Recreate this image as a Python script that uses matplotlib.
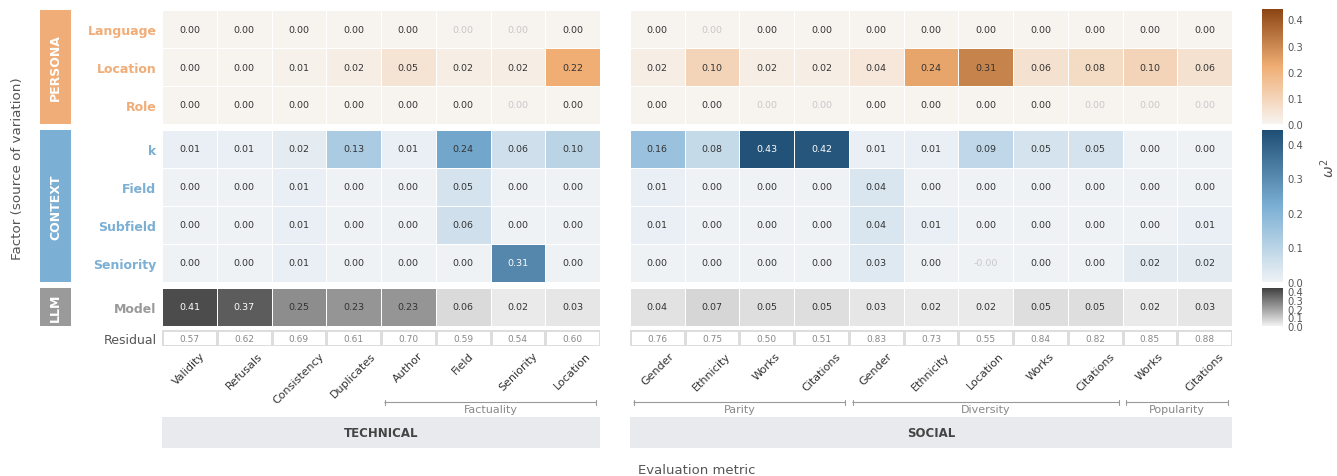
import numpy as np
import matplotlib
matplotlib.use("Agg")
import matplotlib.pyplot as plt
from matplotlib.colors import LinearSegmentedColormap, ListedColormap, Normalize
from matplotlib.cm import ScalarMappable
from matplotlib.patches import Rectangle
from matplotlib.transforms import blended_transform_factory

# ---- data -------------------------------------------------------------
tech_metrics = ["Validity", "Refusals", "Consistency", "Duplicates",
                "Author", "Field", "Seniority", "Location"]
social_metrics = ["Gender", "Ethnicity", "Works", "Citations",
                  "Gender", "Ethnicity", "Location", "Works", "Citations",
                  "Works", "Citations"]

persona_rows = ["Language", "Location", "Role"]
context_rows = ["k", "Field", "Subfield", "Seniority"]
llm_rows = ["Model"]

persona_tech = [[0.00, 0.00, 0.00, 0.00, 0.00, 0.00, 0.00, 0.00],
                [0.00, 0.00, 0.01, 0.02, 0.05, 0.02, 0.02, 0.22],
                [0.00, 0.00, 0.00, 0.00, 0.00, 0.00, 0.00, 0.00]]
persona_social = [[0.00, 0.00, 0.00, 0.00, 0.00, 0.00, 0.00, 0.00, 0.00, 0.00, 0.00],
                  [0.02, 0.10, 0.02, 0.02, 0.04, 0.24, 0.31, 0.06, 0.08, 0.10, 0.06],
                  [0.00, 0.00, 0.00, 0.00, 0.00, 0.00, 0.00, 0.00, 0.00, 0.00, 0.00]]

context_tech = [[0.01, 0.01, 0.02, 0.13, 0.01, 0.24, 0.06, 0.10],
                [0.00, 0.00, 0.01, 0.00, 0.00, 0.05, 0.00, 0.00],
                [0.00, 0.00, 0.01, 0.00, 0.00, 0.06, 0.00, 0.00],
                [0.00, 0.00, 0.01, 0.00, 0.00, 0.00, 0.31, 0.00]]
context_social = [[0.16, 0.08, 0.43, 0.42, 0.01, 0.01, 0.09, 0.05, 0.05, 0.00, 0.00],
                  [0.01, 0.00, 0.00, 0.00, 0.04, 0.00, 0.00, 0.00, 0.00, 0.00, 0.00],
                  [0.01, 0.00, 0.00, 0.00, 0.04, 0.01, 0.00, 0.00, 0.00, 0.00, 0.01],
                  [0.00, 0.00, 0.00, 0.00, 0.03, 0.00, -0.001, 0.00, 0.00, 0.02, 0.02]]

llm_tech = [[0.41, 0.37, 0.25, 0.23, 0.23, 0.06, 0.02, 0.03]]
llm_social = [[0.04, 0.07, 0.05, 0.05, 0.03, 0.02, 0.02, 0.05, 0.05, 0.02, 0.03]]

resid_tech = [0.57, 0.62, 0.69, 0.61, 0.70, 0.59, 0.54, 0.60]
resid_social = [0.76, 0.75, 0.50, 0.51, 0.83, 0.73, 0.55, 0.84, 0.82, 0.85, 0.88]

# non-significant cells (column indices per row)
persona_tech_ns = [[5, 6], [], [6]]
persona_social_ns = [[1], [], [2, 3, 8, 9, 10]]
context_tech_ns = [[], [], [], []]
context_social_ns = [[], [], [], [6]]
llm_tech_ns = [[]]
llm_social_ns = [[]]

tech_groups = [("Factuality", 4, 7)]
social_groups = [("Parity", 0, 3), ("Diversity", 4, 8), ("Popularity", 9, 10)]

# ---- style ------------------------------------------------------------
W, H = 1337, 477
c_persona, c_context, c_llm = "#f0ad78", "#7bafd4", "#9a9a9a"
cm_persona = LinearSegmentedColormap.from_list("p", ["#f7f4f0", "#f0ae74", "#8b4513"])
cm_context = LinearSegmentedColormap.from_list("c", ["#eef2f5", "#7bafd4", "#1f4e74"])
cm_llm = LinearSegmentedColormap.from_list("l", ["#f2f2f2", "#404040"])
norm = Normalize(0, 0.44)

fig = plt.figure(figsize=(W / 100, H / 100), dpi=100)


def box(x0, y0, x1, y1):
    return [x0 / W, 1 - y1 / H, (x1 - x0) / W, (y1 - y0) / H]


def lum(c):
    rgb = np.array(c[:3])
    rgb = np.where(rgb <= .03928, rgb / 12.92, ((rgb + .055) / 1.055) ** 2.4)
    return rgb @ [.2126, .7152, .0722]


def clean(ax):
    for s in ax.spines.values():
        s.set_visible(False)
    ax.set_xticks([])
    ax.set_yticks([])


def heat(ax, data, cmap, ns, rows=None, rcolor=None):
    arr = np.array(data, dtype=float)
    ax.pcolormesh(arr, cmap=cmap, norm=norm, edgecolors="white", linewidth=0.7)
    ax.set_xlim(0, arr.shape[1])
    ax.set_ylim(arr.shape[0], 0)
    clean(ax)
    for i in range(arr.shape[0]):
        for j in range(arr.shape[1]):
            v = arr[i, j]
            if j in ns[i]:
                tc = "#c8c8c8"
            else:
                tc = "white" if lum(cmap(norm(v))) < 0.24 else "#333333"
            ax.text(j + 0.5, i + 0.5, f"{v:.2f}", ha="center", va="center",
                    fontsize=6.8, color=tc)
    if rows:
        ax.set_yticks(np.arange(len(rows)) + 0.5, labels=rows,
                      fontsize=9, fontweight="bold")
        ax.tick_params(axis="y", length=0, pad=4, labelcolor=rcolor)


xs = {"tech": (162, 600), "social": (630, 1232)}
blocks = [((11, 125), cm_persona, persona_rows, c_persona, "PERSONA",
           (persona_tech, persona_tech_ns), (persona_social, persona_social_ns)),
          ((131, 283), cm_context, context_rows, c_context, "CONTEXT",
           (context_tech, context_tech_ns), (context_social, context_social_ns)),
          ((289, 327), cm_llm, llm_rows, c_llm, "LLM",
           (llm_tech, llm_tech_ns), (llm_social, llm_social_ns))]

for (y0, y1), cmap, rows, col, name, tech, social in blocks:
    ax = fig.add_axes(box(xs["tech"][0], y0, xs["tech"][1], y1))
    heat(ax, tech[0], cmap, tech[1], rows, col)
    ax = fig.add_axes(box(xs["social"][0], y0, xs["social"][1], y1))
    heat(ax, social[0], cmap, social[1])
    # group box on the left
    gax = fig.add_axes(box(40, y0, 71, y1))
    gax.set_facecolor(col)
    clean(gax)
    gax.text(0.5, 0.5, name, rotation=90, ha="center", va="center",
             color="white", fontsize=9, fontweight="bold", transform=gax.transAxes)
    # colorbar
    cax = fig.add_axes(box(1262, y0 - (1 if y0 == 11 else 0), 1283, y1))
    cb = fig.colorbar(ScalarMappable(norm=norm, cmap=cmap), cax=cax)
    cb.outline.set_visible(False)
    cb.set_ticks([0, 0.1, 0.2, 0.3, 0.4])
    cb.ax.set_yticklabels([f"{t:.1f}" for t in [0, 0.1, 0.2, 0.3, 0.4]])
    cax.tick_params(length=0, pad=3, labelsize=7.2, colors="#555555")

# residual row + x labels + brackets + sections
for key, vals, metrics, groups, title in [("tech", resid_tech, tech_metrics, tech_groups, "TECHNICAL"),
                                          ("social", resid_social, social_metrics, social_groups, "SOCIAL")]:
    ax = fig.add_axes(box(xs[key][0], 331, xs[key][1], 347))
    arr = np.array([vals])
    ax.pcolormesh(arr, cmap=ListedColormap(["white"]), edgecolors="#dddddd", linewidth=0.8)
    ax.set_xlim(0, len(vals))
    ax.set_ylim(1, 0)
    clean(ax)
    for j, v in enumerate(vals):
        ax.text(j + 0.5, 0.5, f"{v:.2f}", ha="center", va="center", fontsize=6.5, color="#888888")
    ax.set_xticks(np.arange(len(metrics)) + 0.5, labels=metrics, rotation=45, fontsize=8, color="#333333")
    ax.tick_params(axis="x", length=0, pad=3)
    if key == "tech":
        ax.set_yticks([0.5], labels=["Residual"], fontsize=9, color="#555555")
        ax.tick_params(axis="y", length=0, pad=4)

    tr = blended_transform_factory(ax.transData, fig.transFigure)
    for gname, c0, c1 in groups:
        gx0, gx1 = c0 + 0.07, c1 + 1 - 0.07
        ax.annotate("", xy=(gx0, 1 - 403.5 / H), xytext=(gx1, 1 - 403.5 / H),
                    xycoords=tr, textcoords=tr, annotation_clip=False,
                    arrowprops=dict(arrowstyle="|-|, widthA=0.15, widthB=0.15",
                                    color="#999999", lw=0.8, shrinkA=0, shrinkB=0))
        ax.text((gx0 + gx1) / 2, 1 - 410.5 / H, gname, transform=tr, ha="center",
                va="center", fontsize=8, color="#888888")

    tra = blended_transform_factory(ax.transAxes, fig.transFigure)
    fig.add_artist(Rectangle((0, 1 - 449 / H), 1, 31 / H, transform=tra,
                             facecolor="#e9eaee", edgecolor="none"))
    fig.text(0.5, 1 - 434 / H, title, transform=tra, ha="center", va="center",
             fontsize=8.5, fontweight="bold", color="#444444")

fig.text(18 / W, 1 - 169 / H, "Factor (source of variation)", rotation=90,
         ha="center", va="center", fontsize=9.7, color="#555555")
fig.text(697 / W, 1 - 471 / H, "Evaluation metric", ha="center", va="center",
         fontsize=9.5, color="#555555")
fig.text(1328 / W, 1 - 168 / H, r"$\omega^2$", rotation=90, ha="center",
         va="center", fontsize=10, color="#555555")

fig.savefig("out.png", dpi=100)
